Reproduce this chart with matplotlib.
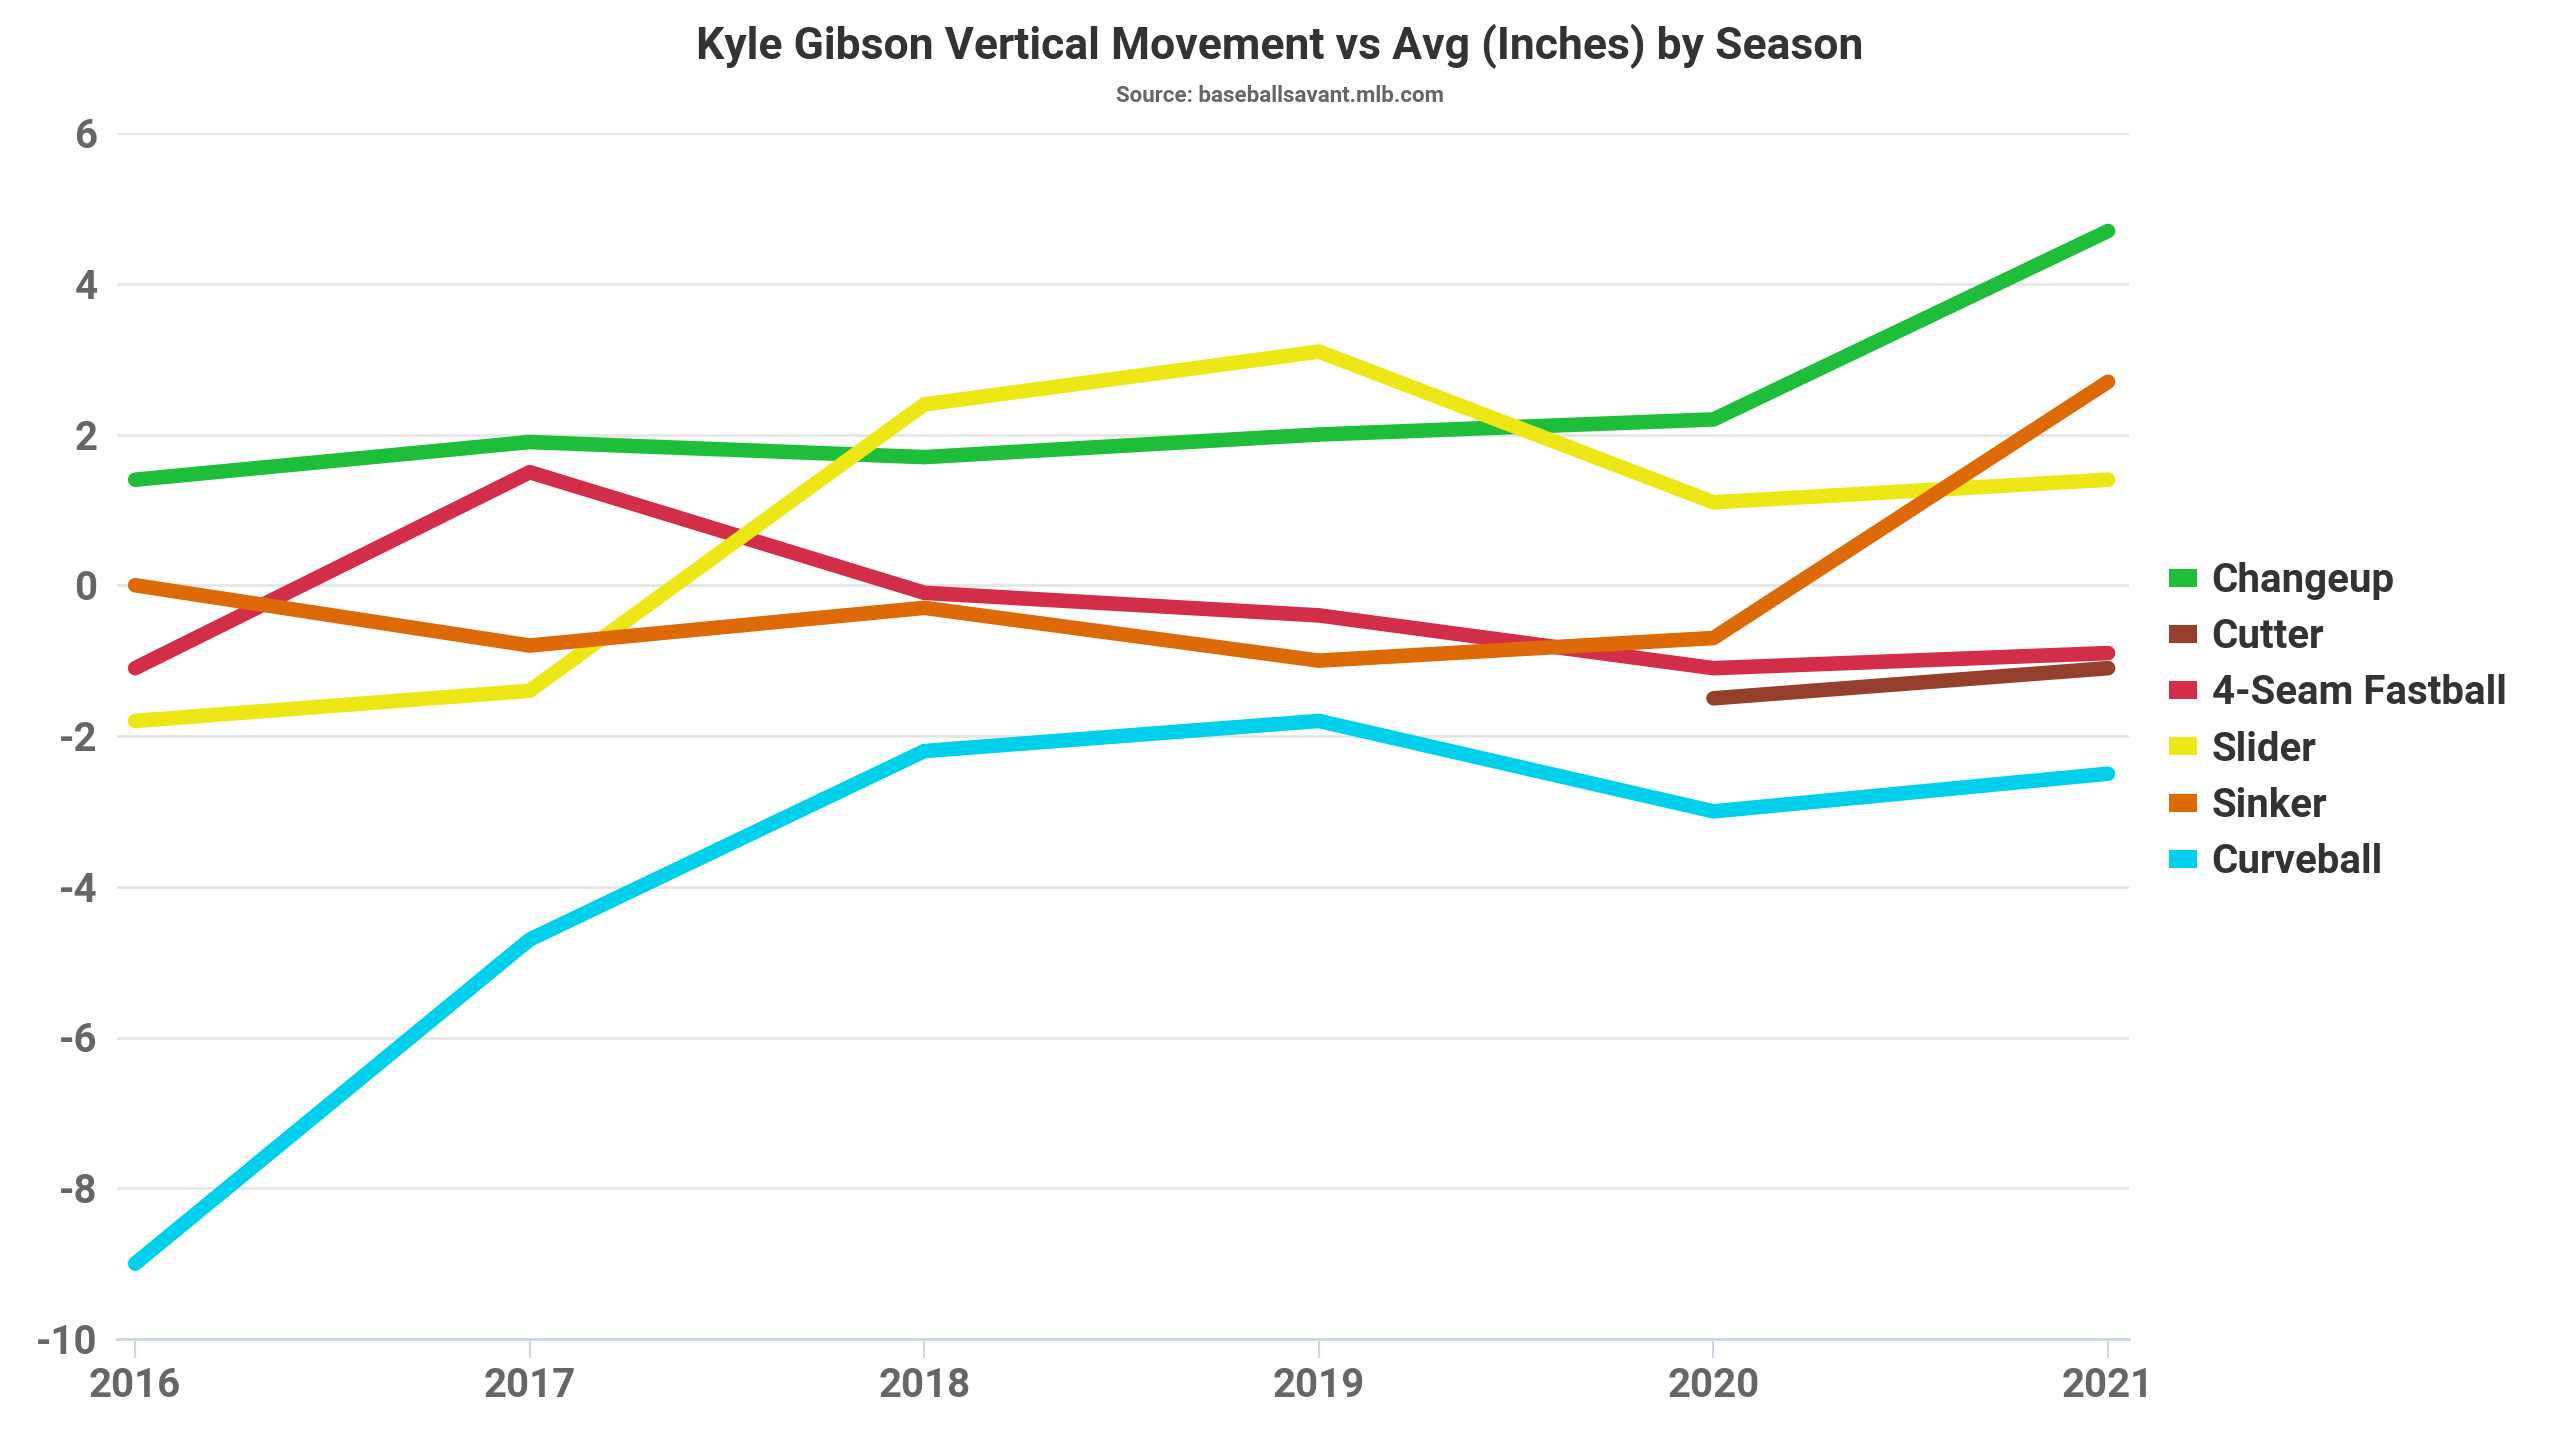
import numpy as np
import matplotlib
matplotlib.use("Agg")
import matplotlib.pyplot as plt
from matplotlib import font_manager

# Season values (inches vs avg)
seasons = [2016, 2017, 2018, 2019, 2020, 2021]
pitch_names = ["Changeup", "Cutter", "4-Seam Fastball", "Slider", "Sinker", "Curveball"]
changeup = [1.4, 1.9, 1.7, 2.0, 2.2, 4.7]
cutter = [np.nan, np.nan, np.nan, np.nan, -1.5, -1.1]
fastball = [-1.1, 1.5, -0.1, -0.4, -1.1, -0.9]
slider = [-1.8, -1.4, 2.4, 3.1, 1.1, 1.4]
sinker = [0.0, -0.8, -0.3, -1.0, -0.7, 2.7]
curveball = [-9.0, -4.7, -2.2, -1.8, -3.0, -2.5]
pitch_colors = ["#1fbe3a", "#963f2c", "#d22d49", "#eee716", "#dd6a06", "#00d0ec"]

available = {f.name for f in font_manager.fontManager.ttflist}
family = "Liberation Sans Narrow" if "Liberation Sans Narrow" in available else "Roboto"
plt.rcParams['font.family'] = [family, 'DejaVu Sans']
plt.rcParams['axes.unicode_minus'] = False

fig = plt.figure(figsize=(25.6, 14.4), dpi=100)
ax = fig.add_axes([117 / 2560, 1 - 1339 / 1440, (2129 - 117) / 2560, (1339 - 133) / 1440])

series = [changeup, cutter, fastball, slider, sinker, curveball]
for name, vals, col in zip(pitch_names, series, pitch_colors):
    ax.plot(seasons, vals, color=col, linewidth=10.5, solid_capstyle='round',
            solid_joinstyle='round', label=name)

ax.set_xlim(2015.954, 2021.053)
ax.set_ylim(-10, 6)
ax.set_xticks(seasons)
ax.set_yticks(np.arange(-10, 7, 2))
ax.grid(axis='y', color='#e6e6e6', linewidth=2)
ax.set_axisbelow(True)
for s in ['top', 'right', 'left']:
    ax.spines[s].set_visible(False)
ax.spines['bottom'].set_color('#ccd6eb')
ax.spines['bottom'].set_linewidth(2)
ax.tick_params(axis='x', length=14, width=1.5, color='#ccd6eb', pad=6,
               labelsize=29, labelcolor='#666666')
ax.tick_params(axis='y', length=0, pad=14, labelsize=29, labelcolor='#666666')
for lbl in ax.get_xticklabels() + ax.get_yticklabels():
    lbl.set_fontweight('bold')

fig.text(0.5, 1 - 46 / 1440, "Kyle Gibson Vertical Movement vs Avg (Inches) by Season",
         ha='center', va='center', fontsize=32, fontweight='bold', color='#333333')
fig.text(0.5, 1 - 96 / 1440, "Source: baseballsavant.mlb.com",
         ha='center', va='center', fontsize=16, fontweight='bold', color='#666666')

leg = ax.legend(loc='center left', bbox_to_anchor=(1.012, 0.512), frameon=False,
                prop={'size': 29, 'weight': 'bold'}, handlelength=0.7,
                handletextpad=0.35, labelspacing=0.45, borderaxespad=0)
for h in leg.get_lines():
    h.set_linewidth(13)
    h.set_solid_capstyle('butt')
for t in leg.get_texts():
    t.set_color('#333333')

fig.savefig("out.png", dpi=100)
